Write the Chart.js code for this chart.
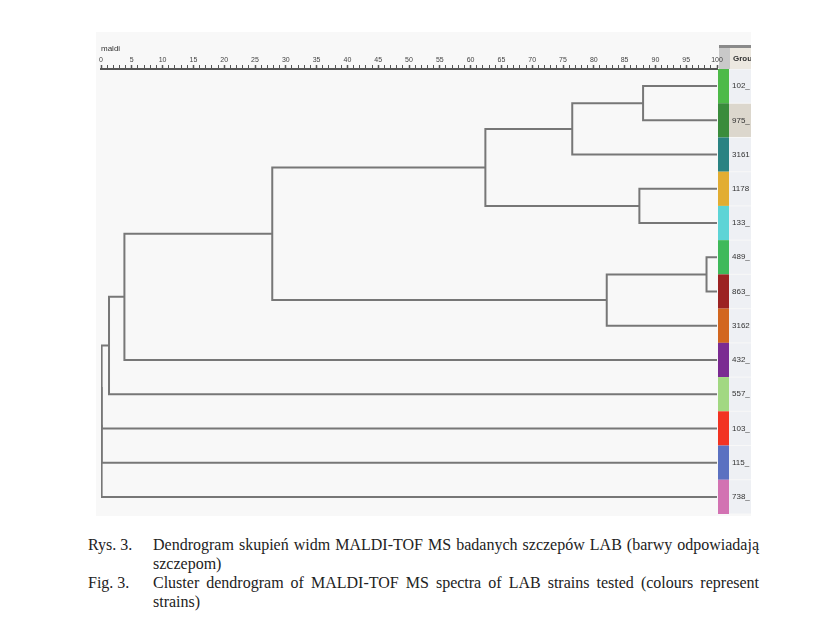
<!DOCTYPE html>
<html>
<head>
<meta charset="UTF-8">
<title>Dendrogram MALDI-TOF</title>
<script src="https://cdn.jsdelivr.net/npm/chart.js@4.4.1/dist/chart.umd.min.js"></script>
<style>
  html, body { margin: 0; padding: 0; background: #fff; }
  body { width: 838px; height: 627px; position: relative; overflow: hidden; }
  #wrap { position: absolute; left: 96px; top: 32px; width: 655px; height: 484px; }
  .cap { position: absolute; font-family: "Liberation Serif", "Times New Roman", serif; font-size: 16px; line-height: 19px; color: #222; }
  .cap .num { position: absolute; left: 0; top: 0; white-space: nowrap; }
  .cap .txt { position: absolute; left: 65px; top: 0; width: 606px; text-align: justify; text-align-last: left; }
</style>
</head>
<body>
<div id="wrap"><canvas id="chart"></canvas></div>

<div class="cap" style="left:88px; top:535px;">
  <span class="num">Rys. 3.</span>
  <div class="txt">Dendrogram skupień widm MALDI-TOF MS badanych szczepów LAB (barwy odpowiadają szczepom)</div>
</div>
<div class="cap" style="left:88px; top:573px;">
  <span class="num">Fig. 3.</span>
  <div class="txt">Cluster dendrogram of MALDI-TOF MS spectra of LAB strains tested (colours represent strains)</div>
</div>

<script>
// leaves, top to bottom
var leafLabels = ['102_', '975_', '3161', '1178', '133_', '489_', '863_', '3162', '432_', '557_', '103_', '115_', '738_'];
var leafColors = ['#4dba48', '#3a8c3c', '#2a8383', '#e2ad32', '#5dd4d6', '#3fb95a', '#9c2222', '#d2661f', '#7b2b92', '#a2d882', '#f23322', '#5b71c1', '#d272b2'];

// merges (node index = 13 + merge index), similarity in %
var mergeA      = [0,    13,   3,    14,   5,    17,   16,   19,  20,  21,  22,  23];
var mergeB      = [1,    2,    4,    15,   6,    7,    18,   8,   9,   10,  11,  12];
var mergeHeight = [88.0, 76.5, 87.4, 62.4, 98.3, 82.1, 27.8, 3.8, 1.3, 0.1, 0.1, 0.1];

var xTickStep = 5;
var selectedLeaf = 1;

// node positions
var nodeX = [], nodeY = [];
leafLabels.forEach(function (l, i) { nodeX.push(100); nodeY.push(i); });
var datasets = [];
mergeA.forEach(function (a, i) {
    var b = mergeB[i], h = mergeHeight[i];
    datasets.push({
        data: [
            { x: nodeX[a], y: nodeY[a] },
            { x: h, y: nodeY[a] },
            { x: h, y: nodeY[b] },
            { x: nodeX[b], y: nodeY[b] }
        ]
    });
    nodeX.push(h);
    nodeY.push((nodeY[a] + nodeY[b]) / 2);
});

var groupPlugin = {
    id: 'groups',
    beforeDraw: function (chart) {
        var c = chart.ctx, area = chart.chartArea;
        var x0 = area.right + 2, bandW = 11, cellW = 22;
        c.save();
        c.fillStyle = '#f8f8f8';
        c.fillRect(0, 0, chart.width, chart.height);
        // header
        c.fillStyle = '#c9c9c9';
        c.fillRect(x0, area.top - 22, bandW, 22);
        c.fillStyle = '#ece8e0';
        c.fillRect(x0 + bandW, area.top - 22, cellW, 22);
        c.fillStyle = '#8a8a8a';
        c.fillRect(x0, area.top - 24, bandW + cellW, 3);
        c.fillStyle = '#333';
        c.font = 'bold 8px "Liberation Sans", Arial, sans-serif';
        c.textBaseline = 'middle';
        c.fillText('Grou', x0 + bandW + 3, area.top - 10);
        c.restore();
    },
    afterDraw: function (chart) {
        var c = chart.ctx, ys = chart.scales.y, area = chart.chartArea;
        var row = Math.abs(ys.getPixelForValue(1) - ys.getPixelForValue(0));
        var x0 = area.right + 1, bandW = 11, cellW = 22;
        c.save();
        c.textBaseline = 'middle';
        leafLabels.forEach(function (lab, i) {
            var yc = ys.getPixelForValue(i);
            var top = yc - row / 2;
            c.fillStyle = leafColors[i];
            c.fillRect(x0, top, bandW, row);
            c.fillStyle = i === selectedLeaf ? '#dcd7cd' : '#eef0f4';
            c.fillRect(x0 + bandW, top + 0.5, cellW, row - 1);
            c.fillStyle = '#333';
            c.font = '8px "Liberation Sans", Arial, sans-serif';
            c.fillText(lab, x0 + bandW + 3, yc);
        });
        c.restore();
    }
};

new Chart(document.getElementById('chart'), {
    type: 'scatter',
    data: { datasets: datasets },
    options: {
        responsive: true,
        maintainAspectRatio: false,
        animation: false,
        layout: { padding: { left: 5, right: 34, top: 0, bottom: 2 } },
        elements: {
            point: { radius: 0, hoverRadius: 0 },
            line: { borderColor: '#777', borderWidth: 2, tension: 0 }
        },
        datasets: { scatter: { showLine: true, borderColor: '#777', borderWidth: 2 } },
        plugins: { legend: { display: false }, tooltip: { enabled: false } },
        scales: {
            x: {
                type: 'linear',
                position: 'top',
                min: 0,
                max: 100,
                afterFit: function (s) { s.height = 37; },
                title: {
                    display: true,
                    text: 'maldi',
                    align: 'start',
                    color: '#333',
                    font: { size: 8, family: '"Liberation Sans", Arial, sans-serif' },
                    padding: { top: 12, bottom: 0 }
                },
                ticks: {
                    stepSize: 1,
                    autoSkip: false,
                    maxRotation: 0,
                    padding: 1,
                    color: '#444',
                    font: { size: 7, family: '"Liberation Sans", Arial, sans-serif' },
                    callback: function (v) { return v % xTickStep === 0 ? v : ''; }
                },
                grid: {
                    drawOnChartArea: false,
                    drawTicks: true,
                    tickLength: 4,
                    tickColor: '#555',
                    tickWidth: function (ctx) { return ctx.tick && ctx.tick.value % xTickStep === 0 ? 1.5 : 1; }
                },
                border: { display: true, color: '#555', width: 2 }
            },
            y: {
                type: 'linear',
                min: -0.5,
                max: leafLabels.length - 0.5,
                reverse: true,
                display: false
            }
        }
    },
    plugins: [groupPlugin]
});
</script>
</body>
</html>
